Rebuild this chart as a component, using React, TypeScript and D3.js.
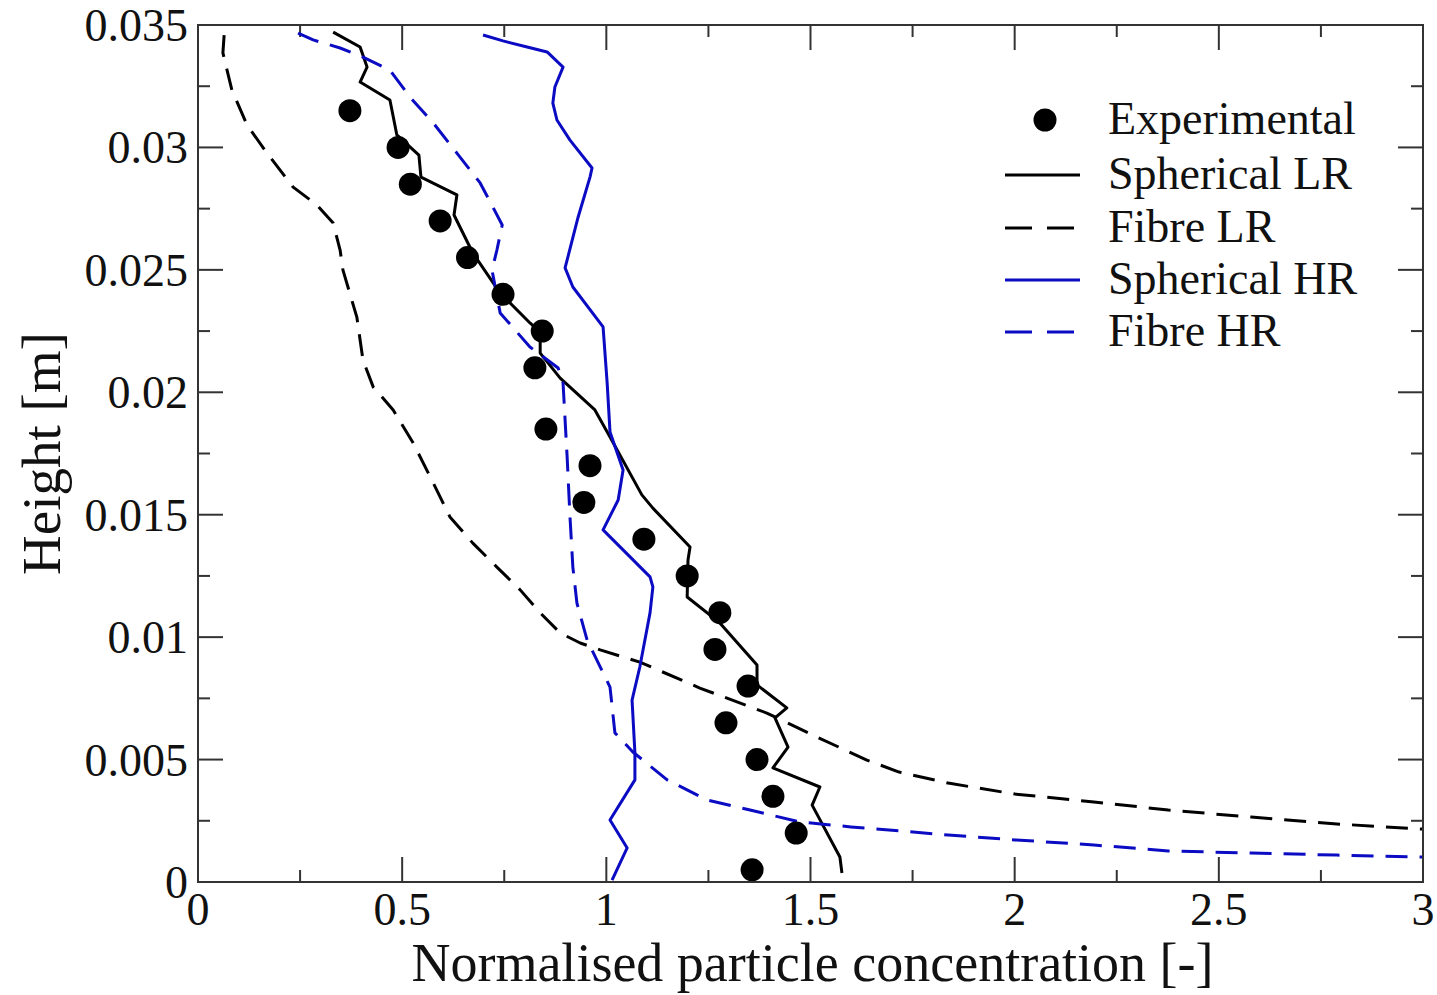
import React from "react";
import * as d3 from "d3";

// Experimental data
const expConc = [0.372, 0.49, 0.52, 0.593, 0.66, 0.747, 0.843, 0.825, 0.852, 0.96, 0.945, 1.092, 1.198, 1.278, 1.266, 1.347, 1.293, 1.369, 1.408, 1.465, 1.357];
const expHeight = [0.0315, 0.030, 0.0285, 0.027, 0.0255, 0.024, 0.0225, 0.021, 0.0185, 0.017, 0.0155, 0.014, 0.0125, 0.011, 0.0095, 0.008, 0.0065, 0.005, 0.0035, 0.002, 0.0005];

// Spherical LR
const sphLRConc = [0.331, 0.397, 0.414, 0.397, 0.47, 0.487, 0.541, 0.546, 0.634, 0.627, 0.673, 0.74, 0.813, 0.838, 0.838, 0.887, 0.972, 1.009, 1.087, 1.114, 1.205, 1.2, 1.198, 1.278, 1.369, 1.369, 1.442, 1.413, 1.445, 1.408, 1.523, 1.504, 1.572, 1.577];
const sphLRHeight = [0.03471, 0.0341, 0.03328, 0.03267, 0.03194, 0.03051, 0.02969, 0.02879, 0.02806, 0.02724, 0.02569, 0.02405, 0.02283, 0.02246, 0.0216, 0.02058, 0.01928, 0.01817, 0.01581, 0.01527, 0.01368, 0.01315, 0.01164, 0.01058, 0.00886, 0.00805, 0.00711, 0.0067, 0.00551, 0.00466, 0.00388, 0.00314, 0.00102, 0.00037];

// Fibre LR
const fibLRConc = [0.064, 0.061, 0.083, 0.12, 0.169, 0.233, 0.291, 0.331, 0.348, 0.355, 0.389, 0.404, 0.429, 0.478, 0.527, 0.576, 0.617, 0.673, 0.732, 0.789, 0.838, 0.887, 0.936, 0.985, 1.082, 1.229, 1.393, 1.516, 1.638, 1.717, 1.837, 2.001, 2.194, 2.376, 2.579, 2.789, 3.0];
const fibLRHeight = [0.03459, 0.03386, 0.03234, 0.03092, 0.02977, 0.02838, 0.02765, 0.02691, 0.02581, 0.02499, 0.02307, 0.02132, 0.02022, 0.01928, 0.01793, 0.0163, 0.01491, 0.01384, 0.01286, 0.01193, 0.01099, 0.01017, 0.00976, 0.00948, 0.00898, 0.00792, 0.0069, 0.00592, 0.00498, 0.00449, 0.00404, 0.00359, 0.00327, 0.00294, 0.00265, 0.00237, 0.00216];

// Spherical HR
const sphHRConc = [0.698, 0.747, 0.806, 0.855, 0.894, 0.874, 0.869, 0.879, 0.911, 0.965, 0.96, 0.931, 0.899, 0.918, 0.992, 1.002, 1.009, 1.041, 1.029, 0.992, 1.107, 1.114, 1.107, 1.082, 1.063, 1.07, 1.07, 1.009, 1.051, 1.014];
const sphHRHeight = [0.03459, 0.03435, 0.0341, 0.0339, 0.03328, 0.03247, 0.03181, 0.03112, 0.0303, 0.02916, 0.02879, 0.02716, 0.02508, 0.0243, 0.02267, 0.02038, 0.01838, 0.01683, 0.0156, 0.01438, 0.01246, 0.01205, 0.01099, 0.00878, 0.00743, 0.00527, 0.00417, 0.00253, 0.00139, 0.00008];

// Fibre HR
const fibHRConc = [0.245, 0.282, 0.348, 0.404, 0.47, 0.519, 0.576, 0.634, 0.691, 0.722, 0.745, 0.732, 0.72, 0.74, 0.813, 0.882, 0.894, 0.904, 0.911, 0.918, 0.928, 0.953, 1.009, 1.021, 1.065, 1.149, 1.247, 1.352, 1.474, 1.599, 1.837, 2.001, 2.194, 2.376, 2.579, 2.789, 3.0];
const fibHRHeight = [0.03467, 0.03439, 0.03406, 0.03369, 0.03316, 0.03206, 0.031, 0.02977, 0.02855, 0.02757, 0.02683, 0.02581, 0.02499, 0.02324, 0.02185, 0.02099, 0.02038, 0.01736, 0.01491, 0.01286, 0.01139, 0.00988, 0.00796, 0.00609, 0.00531, 0.00417, 0.00335, 0.00294, 0.00245, 0.00225, 0.00192, 0.00172, 0.00151, 0.00127, 0.00118, 0.0011, 0.00102];

const xTicks = [0, 0.5, 1, 1.5, 2, 2.5, 3];
const xTickLabels = ["0", "0.5", "1", "1.5", "2", "2.5", "3"];
const yTicks = [0, 0.005, 0.01, 0.015, 0.02, 0.025, 0.03, 0.035];
const yTickLabels = ["0", "0.005", "0.01", "0.015", "0.02", "0.025", "0.03", "0.035"];

const legendNames = ["Experimental", "Spherical LR", "Fibre LR", "Spherical HR", "Fibre HR"];

const W = 1437;
const H = 995;
const left = 198, right = 1423, top = 25, bottom = 882;
const BLUE = "#0b0bc4";
const FONT = "'Liberation Serif', 'DejaVu Serif', serif";

export default function App() {
  const x = d3.scaleLinear().domain([0, 3]).range([left, right]);
  const y = d3.scaleLinear().domain([0, 0.035]).range([bottom, top]);

  const line = d3.line<[number, number]>()
    .x(d => x(d[0]))
    .y(d => y(d[1]));

  const zip = (a: number[], b: number[]) => a.map((v, i) => [v, b[i]] as [number, number]);

  const series = [
    { pts: zip(sphLRConc, sphLRHeight), color: "#000", dash: "none" },
    { pts: zip(fibLRConc, fibLRHeight), color: "#000", dash: "22,12" },
    { pts: zip(sphHRConc, sphHRHeight), color: BLUE, dash: "none" },
    { pts: zip(fibHRConc, fibHRHeight), color: BLUE, dash: "22,12" },
  ];

  const xMinor = d3.range(0, 3.001, 0.25);
  const yMinor = d3.range(0, 0.03501, 0.0025);
  const isMajorX = (v: number) => Math.abs(v * 2 - Math.round(v * 2)) < 1e-6;
  const isMajorY = (v: number) => Math.abs(v / 0.005 - Math.round(v / 0.005)) < 1e-6;

  const legendRows = [120, 175, 228, 280, 332];

  return (
    <svg width={W} height={H} style={{ position: "absolute", left: 0, top: 0, background: "#fff" }} fontFamily={FONT}>
      <rect x={0} y={0} width={W} height={H} fill="#fff" />

      {/* ticks */}
      <g stroke="#333" strokeWidth={2}>
        {xMinor.map((v, i) => {
          const len = isMajorX(v) ? 25 : 12;
          return (
            <g key={"xt" + i}>
              <line x1={x(v)} x2={x(v)} y1={bottom} y2={bottom - len} />
              <line x1={x(v)} x2={x(v)} y1={top} y2={top + len} />
            </g>
          );
        })}
        {yMinor.map((v, i) => {
          const len = isMajorY(v) ? 25 : 12;
          return (
            <g key={"yt" + i}>
              <line x1={left} x2={left + len} y1={y(v)} y2={y(v)} />
              <line x1={right} x2={right - len} y1={y(v)} y2={y(v)} />
            </g>
          );
        })}
      </g>

      {/* series */}
      {series.map((s, i) => (
        <path key={"s" + i} d={line(s.pts) || ""} fill="none" stroke={s.color} strokeWidth={3}
          strokeDasharray={s.dash} strokeLinejoin="round" />
      ))}

      {/* experimental */}
      {expConc.map((v, i) => (
        <circle key={"e" + i} cx={x(v)} cy={y(expHeight[i])} r={11.5} fill="#000" />
      ))}

      {/* frame */}
      <rect x={left} y={top} width={right - left} height={bottom - top} fill="none" stroke="#333" strokeWidth={2} />

      {/* tick labels */}
      <g fontSize={46} fill="#111">
        {xTicks.map((v, i) => (
          <text key={"xl" + i} x={x(v)} y={925} textAnchor="middle">{xTickLabels[i]}</text>
        ))}
        {yTicks.map((v, i) => (
          <text key={"yl" + i} x={188} y={y(v) + 16} textAnchor="end">{yTickLabels[i]}</text>
        ))}
      </g>

      {/* axis labels */}
      <text x={(left + right) / 2 + 2} y={981} textAnchor="middle" fontSize={54} fill="#111">
        Normalised particle concentration [-]
      </text>
      <text transform={`translate(60,${(top + bottom) / 2}) rotate(-90)`} textAnchor="middle" fontSize={55} fill="#111">
        Height [m]
      </text>

      {/* legend */}
      <g fontSize={46} fill="#111">
        <circle cx={1045} cy={legendRows[0]} r={11.5} fill="#000" />
        {series.map((s, i) => (
          <line key={"ll" + i} x1={1005} x2={1080} y1={legendRows[i + 1]} y2={legendRows[i + 1]}
            stroke={s.color} strokeWidth={3} strokeDasharray={s.dash === "none" ? "none" : "27,15"} />
        ))}
        {legendNames.map((n, i) => (
          <text key={"lt" + i} x={1108} y={legendRows[i] + 14}>{n}</text>
        ))}
      </g>
    </svg>
  );
}
